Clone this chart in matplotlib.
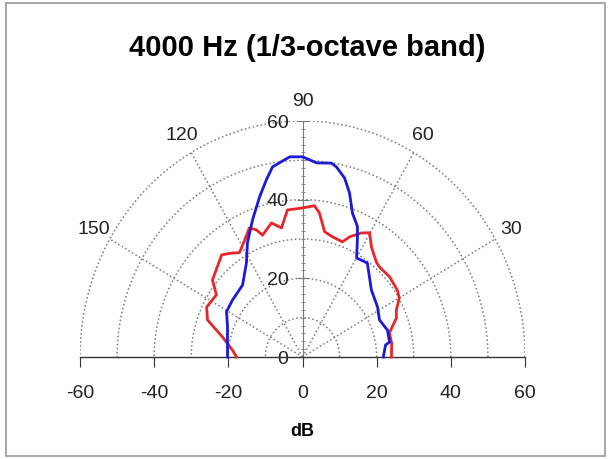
import numpy as np
import matplotlib
matplotlib.use('Agg')
import matplotlib.pyplot as plt
from matplotlib.patches import Rectangle

plt.rcParams['font.family'] = ['Liberation Sans', 'DejaVu Sans']
plt.rcParams['axes.unicode_minus'] = False

# polar readings, angle in degrees (0 = right, 180 = left), radius in dB
blue_deg = [0, 7.8, 9.2, 16.7, 24.4, 32.2, 42.5, 53.8, 59.9, 63.6, 65.9, 69.8, 73.1, 76.0,
            79.3, 81.0, 85.6, 90, 93.9, 99.5, 102.2, 105.9, 111.1, 117.1, 122.3, 131.5,
            142.5, 150.7, 159.4, 169.3, 180]
blue_db = [21.8, 22.6, 23.8, 23.9, 22.8, 23.9, 25.2, 29.6, 29.1, 33.3, 36.3, 39.0, 43.6, 46.9,
           49.2, 49.9, 49.5, 50.9, 51.0, 49.0, 46.1, 42.3, 37.4, 32.6, 28.3, 24.4,
           23.8, 23.5, 21.6, 20.6, 20.2]

red_deg = [0, 8.4, 14.6, 21.4, 25.3, 29.9, 33.6, 41.0, 47.8, 50.5, 56.4, 60.2, 63.3, 67.4,
           69.8, 75.1, 79.4, 82.9, 85.2, 90, 96.2, 99.8, 103.8, 109.2, 111.0, 113.6, 117.6,
           122.7, 125.5, 130.0, 141.1, 145.7, 153.9, 159.8, 166.7, 174.6, 180]
red_db = [24.0, 24.3, 24.2, 27.2, 28.0, 30.1, 30.7, 31.1, 30.9, 31.3, 33.6, 36.4, 35.3, 33.1,
          31.2, 31.6, 32.4, 36.9, 38.6, 37.9, 37.6, 33.3, 35.1, 32.8, 34.6, 35.8, 33.6,
          31.5, 32.5, 33.9, 31.2, 28.1, 28.8, 27.3, 22.2, 19.0, 17.8]

ring_radii = [10, 20, 30, 40, 50, 60]
spoke_angles = [30, 60, 120, 150]
angle_labels = ['30', '60', '90', '120', '150']
angle_label_pos = [30, 60, 90, 120, 150]
x_ticks = [-60, -40, -20, 0, 20, 40, 60]
r_ticks = [0, 20, 40, 60]

fig = plt.figure(figsize=(6.08, 4.59), dpi=100)
ax = fig.add_axes([80 / 608, 102 / 459, 445 / 608, 236 / 459])
ax.set_xlim(-60, 60)
ax.set_ylim(0, 60)

grid_kw = dict(color='#7a7a7a', linestyle=':', linewidth=1.1, zorder=1)
t = np.radians(np.linspace(0, 180, 181))
for r in ring_radii:
    ax.plot(r * np.cos(t), r * np.sin(t), **grid_kw)
for a in spoke_angles:
    ax.plot([0, 60 * np.cos(np.radians(a))], [0, 60 * np.sin(np.radians(a))], **grid_kw)

for a, lab in zip(angle_label_pos, angle_labels):
    ax.text(65 * np.cos(np.radians(a)), 65 * np.sin(np.radians(a)), lab,
            ha='center', va='center', fontsize=14, color='#222222')

def to_xy(deg, db):
    th = np.radians(deg)
    return np.array(db) * np.cos(th), np.array(db) * np.sin(th)

bx, by = to_xy(blue_deg, blue_db)
rx, ry = to_xy(red_deg, red_db)
ax.plot(rx, ry, color='#e8262a', linewidth=2.0, zorder=3, clip_on=False)
ax.plot(bx, by, color='#1a1ad8', linewidth=2.0, zorder=4, clip_on=False)

for s in ['top', 'right']:
    ax.spines[s].set_visible(False)
ax.spines['left'].set_position(('data', 0))
ax.spines['left'].set_color('#7a7a7a')
ax.spines['bottom'].set_color('#333333')
ax.spines['bottom'].set_linewidth(1.0)

ax.set_xticks(x_ticks)
ax.set_yticks(r_ticks)
ax.set_yticks(np.arange(0, 61, 2), minor=True)
ax.tick_params(axis='x', direction='out', length=7, width=0.8, color='#333333',
               pad=13, labelsize=14, labelcolor='#222222')
ax.tick_params(axis='y', which='major', direction='inout', length=8, width=0.8,
               color='#7a7a7a', pad=6, labelsize=14, labelcolor='#222222')
ax.tick_params(axis='y', which='minor', direction='inout', length=3, width=0.6,
               color='#7a7a7a')
ax.set_xlabel('dB', fontsize=13, fontweight='bold', labelpad=15)

fig.text(307 / 608, 1 - 48 / 459, '4000 Hz (1/3-octave band)', ha='center', va='center',
         fontsize=21, fontweight='bold')

fig.patches.append(Rectangle((6 / 608, 3 / 459), 599 / 608, 453 / 459, transform=fig.transFigure,
                             fill=False, edgecolor='#9a9a9a', linewidth=1.2))

fig.savefig('out.png', dpi=100)
